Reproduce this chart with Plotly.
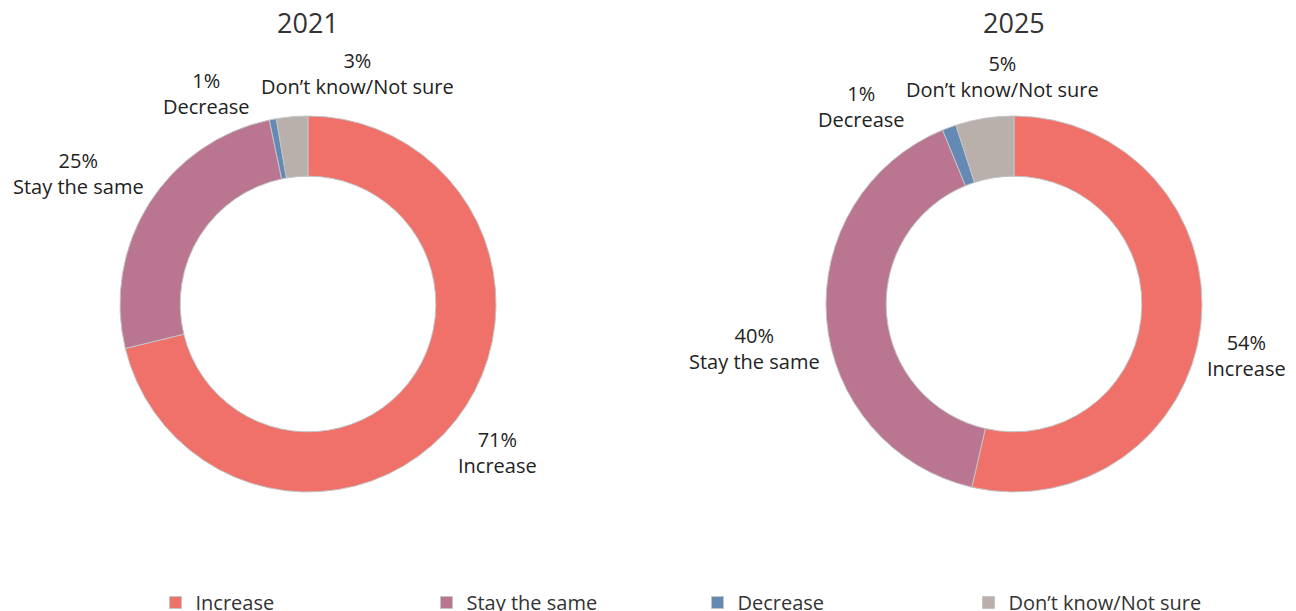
import math
import plotly.graph_objects as go

# ---------------- data ----------------
categories = ["Increase", "Stay the same", "Decrease", "Don’t know/Not sure"]
years = ["2021", "2025"]
values_2021 = [71.2, 25.5, 0.6, 2.7]
values_2025 = [53.6, 40.2, 1.2, 5.0]
pct_labels_2021 = ["71%", "25%", "1%", "3%"]
pct_labels_2025 = ["54%", "40%", "1%", "5%"]
colors = ["#EF716A", "#BA7591", "#6389B4", "#B9B0AC"]

# ---------------- layout constants ----------------
W, H = 1296, 611
OFF = 8            # page body margin offset compensation
FONT = "Open Sans"
R = 188            # outer radius in px
HOLE = 0.68
centers = [(308, 304), (1014, 304)]
# label placement tweaks: angle nudges (degrees) and extra radial distance (px)
nudges = [[0, -2.6, -15, 17], [6, -5, -17.5, 6]]
extra = [[0, 0, 0, -2], [0, 0, 11, 5]]
LABEL_GAP = 5
LINE_H = 50
CHAR_W = 10.3


def px_x(x):
    return (x - OFF) / W


def px_y(y):
    return 1 - (y - OFF) / H


fig = go.Figure()
annotations = []
all_values = [values_2021, values_2025]
all_pcts = [pct_labels_2021, pct_labels_2025]

for i, (year, vals, pcts) in enumerate(zip(years, all_values, all_pcts)):
    cx, cy = centers[i]
    fig.add_trace(go.Pie(
        labels=categories,
        values=vals,
        hole=HOLE,
        sort=False,
        direction="clockwise",
        rotation=0,
        textinfo="none",
        marker=dict(colors=colors, line=dict(color="#C4C4C4", width=1)),
        domain=dict(x=[px_x(cx - R), px_x(cx + R)], y=[px_y(cy + R), px_y(cy - R)]),
        showlegend=(i == 0),
        hoverinfo="label+percent",
        name=year,
    ))
    # title
    annotations.append(dict(
        x=px_x(cx), y=px_y(22), xref="paper", yref="paper",
        text=year, showarrow=False, xanchor="center", yanchor="middle",
        font=dict(family=FONT, size=27, color="#333333"),
    ))
    # outside labels computed from slice mid-angles
    total = sum(vals)
    cum = 0.0
    for j, v in enumerate(vals):
        mid = (cum + v / 2) / total * 360.0
        cum += v
        ang = math.radians(mid + nudges[i][j])
        s, c = math.sin(ang), math.cos(ang)
        w = max(len(pcts[j]), len(categories[j])) * CHAR_W
        dist = R + LABEL_GAP + abs(s) * w / 2 + abs(c) * LINE_H / 2 + extra[i][j]
        lx = cx + s * dist
        ly = cy - c * dist
        annotations.append(dict(
            x=px_x(lx), y=px_y(ly), xref="paper", yref="paper",
            text=f"{pcts[j]}<br>{categories[j]}", showarrow=False,
            xanchor="center", yanchor="middle", align="center",
            font=dict(family=FONT, size=20, color="#222222"),
        ))

fig.update_layout(
    width=W, height=H,
    margin=dict(l=0, r=0, t=0, b=0, autoexpand=False),
    paper_bgcolor="white",
    plot_bgcolor="white",
    font=dict(family=FONT, size=20, color="#333333"),
    annotations=annotations,
    legend=dict(
        orientation="h",
        x=px_x(155.5), y=px_y(583),
        xanchor="left", yanchor="top",
        entrywidth=226, entrywidthmode="pixels",
        font=dict(family=FONT, size=20, color="#333333"),
        traceorder="normal",
    ),
)

fig.write_html("out.html")
